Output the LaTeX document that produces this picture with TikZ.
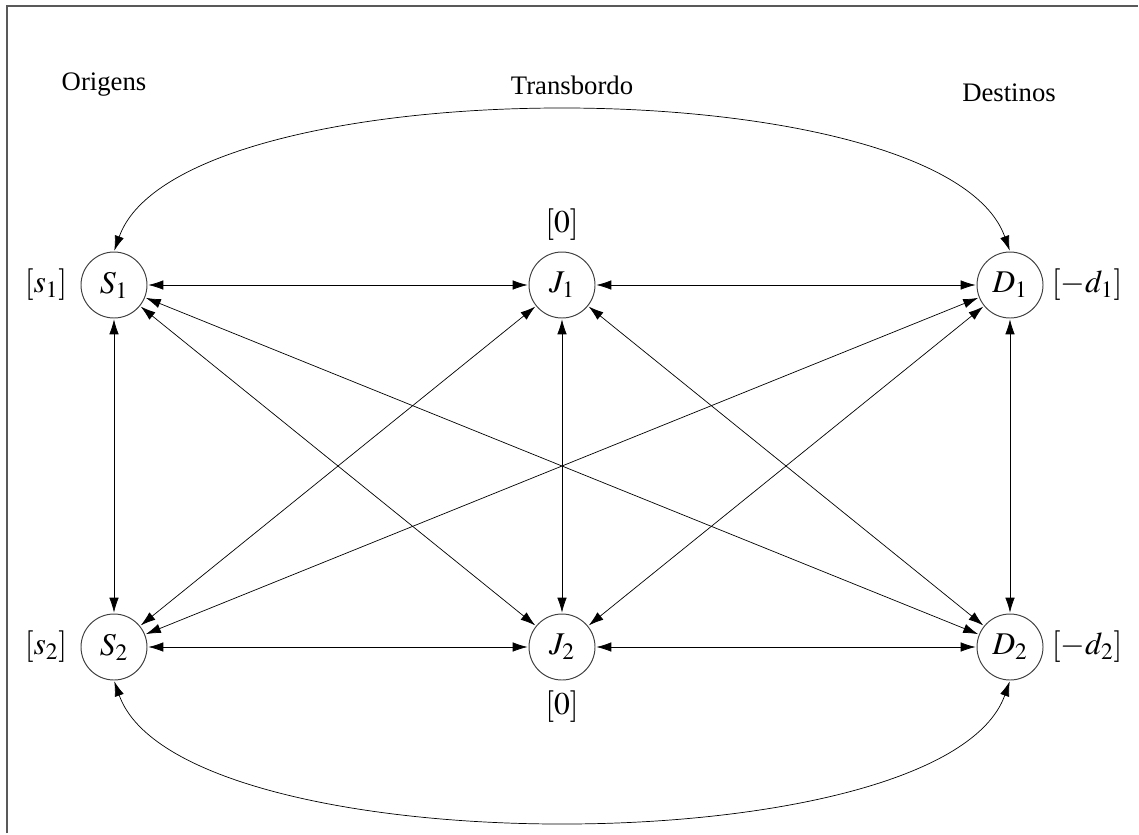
\documentclass[tikz,border=0pt]{standalone}
\usepackage{mathptmx}
\usepackage{fontspec}
\setmainfont{Liberation Serif}
\usetikzlibrary{automata, positioning, arrows.meta}
\tikzset{
	<->, % every link goes both ways
	>={Latex[length=8.5pt,width=5.4pt]}, % filled arrow heads
	shorten >=0.5pt, shorten <=0.5pt, % stop just at the circle
	node distance=8.96cm, % horizontal step between the columns
	line width=0.55pt,
	every state/.style={draw=black!75,line width=0.55pt,minimum size=1.32cm,inner sep=0pt,fill=white,font=\fontsize{18}{20}\selectfont}, % the nodes
	every label/.style={inner sep=0pt,font=\fontsize{18}{20}\selectfont}, % labels [s], [0], [-d]
	font=\fontsize{15.2}{18}\selectfont, % text size
}
\begin{document}
\begin{tikzpicture}
		\useasboundingbox (0,0) rectangle (22.78,-16.68);
		\draw[-, line width=1.1pt, black!65] (0.14,-16.68) |- (22.78,-0.12);
		
		\node (origens) at (2.08,-1.70) {Origens};
		\node (transbordo) at (11.44,-1.70) {Transbordo};
		\node (destinos) at (20.18,-1.86) {Destinos};
		
		\node[state, label={[label distance=0.26cm]left:$[s_1]$}] (s1) at (2.28,-5.70) {$S_1$};
		\node[state, right of=s1, label={[label distance=0.22cm]above:$[0]$}] (j1) {$J_1$};
		\node[state, right of=j1, label={[label distance=0.16cm]right:$[-d_1]$}] (d1) {$D_1$};
		\node[state, below of=s1, node distance=7.24cm, label={[label distance=0.26cm]left:$[s_2]$}] (s2) {$S_2$};
		\node[state, right of=s2, label={[label distance=0.2cm]below:$[0]$}] (j2) {$J_2$};
		\node[state, right of=j2, label={[label distance=0.16cm]right:$[-d_2]$}] (d2) {$D_2$};
		
		\draw (s1) edge (j1)
			  (j1) edge (d1)
			  (s2) edge (j2)
			  (j2) edge (d2)
			  %
			  (s1) edge (s2)
			  (j1) edge (j2)
			  (d1) edge (d2)
			  %
			  (s1) edge (j2)
			  (s1) edge (d2)
			  (s2) edge (j1)
			  (s2) edge (d1)
			  (j1) edge (d2)
			  (j2) edge (d1)
		;
		\draw (s1.north) .. controls (3.6,-1.30) and (18.88,-1.30) .. (d1.north);
		\draw (s2.south) .. controls (3.6,-17.34) and (18.88,-17.34) .. (d2.south);
	\end{tikzpicture}
\end{document}
